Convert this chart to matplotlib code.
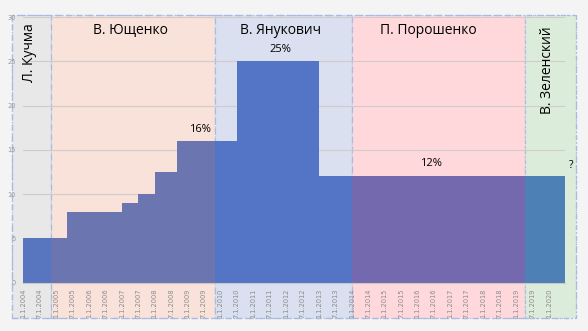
import matplotlib.pyplot as plt
from matplotlib.patches import Rectangle

# step data: start of each period (in years) and the value
step_starts = [2004.0, 2005.33, 2007.0, 2007.5, 2008.0, 2008.67, 2010.5, 2013.0]
step_values = [5, 8, 9, 10, 12.5, 16, 25, 12]
step_end = 2020.5

# presidents and the spans they cover
presidents = ['Л. Кучма', 'В. Ющенко', 'В. Янукович', 'П. Порошенко', 'В. Зеленский']
term_edges = [2003.665, 2004.85, 2009.83, 2014.02, 2019.28, 2020.82]
bg_colors = ['#e8e8e8', '#f8e2da', '#dae0f0', '#ffd8dc', '#dcecda']
bar_colors = ['#5876c0', '#6b76b0', '#5474c6', '#7468ae', '#4d80b5']

# tick labels every half year
tick_pos = [2004 + 0.5 * k for k in range(33)]
tick_labels = [('1.1.' if k % 2 == 0 else '7.1.') + str(2004 + k // 2) for k in range(33)]

W, H = 588, 331
fig = plt.figure(figsize=(W / 100, H / 100), dpi=100, facecolor='#f4f4f4')
ax = fig.add_axes([23.3 / W, 1 - 282.7 / H, (565.3 - 23.3) / W, (282.7 - 17) / H])
ax.set_facecolor('none')
ax.set_xlim(2004.0, step_end)
ax.set_ylim(0, 30)

trans = ax.get_xaxis_transform()
y_bot, y_top = -0.133, 1.0075
edges = step_starts + [step_end]
for i, name in enumerate(presidents):
    x0, x1 = term_edges[i], term_edges[i + 1]
    ls = (0, (3, 2, 1, 2)) if i == 4 else (0, (5, 3))
    bg = Rectangle((x0, y_bot), x1 - x0, y_top - y_bot, transform=trans,
                   facecolor=bg_colors[i], edgecolor='#a8bce3', lw=0.9,
                   linestyle=ls, clip_on=False, zorder=0.1)
    ax.add_patch(bg)
    # bar part inside this term
    clip = Rectangle((x0, 0), x1 - x0, 40, transform=ax.transData)
    st = ax.stairs(step_values, edges, fill=True, color=bar_colors[i], zorder=1)
    st.set_clip_path(clip)

# outer dash-dot border
ax.add_patch(Rectangle((term_edges[0], y_bot), term_edges[-1] - term_edges[0], y_top - y_bot,
                       transform=trans, fill=False, edgecolor='#a8bce3', lw=0.9,
                       linestyle=(0, (4, 2, 1, 2)), clip_on=False, zorder=0.2))

ax.set_axisbelow(True)
ax.yaxis.grid(True, color='#d2cbcb', lw=0.8)
ax.set_yticks(range(0, 31, 5))
ax.set_xticks(tick_pos)
ax.set_xticklabels(tick_labels, rotation=90)
ax.tick_params(axis='y', length=0, pad=5.5, labelsize=4.8, labelcolor='#999999')
ax.tick_params(axis='x', length=0, pad=4, labelsize=4.8, labelcolor='#8c8c8c')
for s in ['top', 'right', 'left']:
    ax.spines[s].set_visible(False)
ax.spines['bottom'].set_color('#c8c8c8')
ax.spines['bottom'].set_linewidth(0.8)

font = 'Open Sans'
ax.text(2004.20, 26.0, presidents[0], rotation=90, ha='center', va='center', fontsize=10, family=font)
ax.text(2007.26, 28.5, presidents[1], ha='center', va='center', fontsize=10, family=font)
ax.text(2011.84, 28.5, presidents[2], ha='center', va='center', fontsize=10, family=font)
ax.text(2016.33, 28.5, presidents[3], ha='center', va='center', fontsize=10, family=font)
ax.text(2019.97, 24.0, presidents[4], rotation=90, ha='center', va='center', fontsize=10, family=font)

ax.text(2009.38, 17.35, '16%', ha='center', va='center', fontsize=8, family=font)
ax.text(2011.84, 26.3, '25%', ha='center', va='center', fontsize=8, family=font)
ax.text(2016.42, 13.5, '12%', ha='center', va='center', fontsize=8, family=font)
ax.text(2020.67, 13.2, '?', ha='center', va='center', fontsize=7.5, family=font)

fig.savefig('out.png', dpi=100, facecolor=fig.get_facecolor())
